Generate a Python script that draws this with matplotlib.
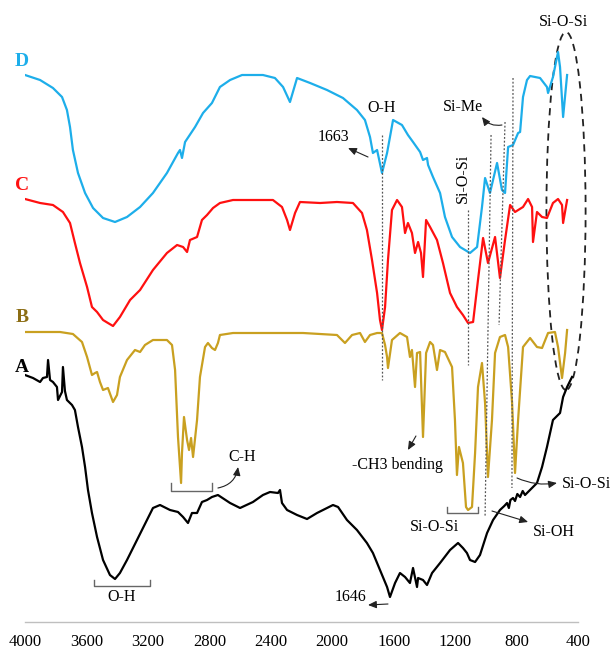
import matplotlib
matplotlib.use("Agg")
import numpy as np
import matplotlib.pyplot as plt
from matplotlib.patches import Ellipse

plt.rcParams['font.family'] = ['Liberation Serif', 'DejaVu Serif']

# FTIR spectra, stacked with vertical offsets (transmittance, a.u.)
wn_d = [4000, 3902, 3818, 3759, 3727, 3707, 3688, 3655, 3609, 3557, 3492, 3414, 3336, 3251, 3167,
        3076, 3004, 2991, 2978, 2958, 2893, 2841, 2783, 2731, 2665, 2587, 2451, 2373, 2320, 2275,
        2229, 2144, 2034, 1930, 1839, 1787, 1754, 1735, 1708, 1676, 1643, 1604, 1546, 1507, 1474,
        1428, 1409, 1383, 1376, 1344, 1298, 1266, 1220, 1168, 1103, 1057, 1025, 1005, 973, 927,
        895, 875, 855, 823, 790, 777, 758, 732, 712, 647, 602, 595, 563, 530, 517, 497, 471]
t_d = [574, 569, 561, 552, 539, 522, 499, 476, 456, 441, 431, 427, 432, 442, 456,
       476, 496, 499, 491, 507, 522, 536, 546, 562, 569, 574, 574, 571, 562, 547,
       571, 566, 559, 551, 539, 529, 512, 496, 499, 476, 496, 529, 524, 514, 507,
       497, 489, 491, 484, 472, 456, 432, 412, 402, 396, 402, 442, 471, 456, 486,
       459, 456, 502, 504, 516, 517, 552, 569, 573, 571, 562, 556, 572, 597, 582, 532, 574]

wn_c = [4000, 3902, 3818, 3753, 3707, 3675, 3642, 3596, 3564, 3531, 3492, 3460, 3427, 3382, 3316,
        3251, 3167, 3076, 3010, 2971, 2945, 2926, 2880, 2848, 2815, 2776, 2731, 2646, 2386, 2327,
        2294, 2275, 2242, 2210, 2079, 1969, 1865, 1806, 1774, 1741, 1708, 1689, 1676, 1656, 1637,
        1611, 1578, 1546, 1526, 1507, 1481, 1461, 1441, 1422, 1409, 1389, 1363, 1318, 1279, 1233,
        1188, 1149, 1116, 1083, 1051, 1018, 986, 940, 908, 875, 842, 810, 758, 725, 699, 693,
        667, 634, 602, 563, 530, 504, 497, 471]
t_c = [450, 446, 444, 437, 426, 406, 386, 362, 342, 337, 329, 326, 323, 332, 349,
       359, 379, 396, 404, 402, 397, 409, 412, 429, 434, 441, 446, 449, 449, 442,
       429, 419, 436, 447, 446, 447, 446, 436, 419, 389, 356, 329, 319, 342, 389,
       439, 449, 442, 416, 426, 416, 396, 407, 396, 372, 429, 422, 409, 386, 356,
       342, 334, 326, 327, 369, 411, 386, 412, 371, 409, 444, 437, 442, 450, 442, 407,
       437, 432, 431, 446, 450, 444, 426, 449]

wn_b = [4000, 3772, 3688, 3629, 3596, 3564, 3544, 3531, 3512, 3492, 3460, 3427, 3401, 3382, 3336,
        3284, 3251, 3219, 3167, 3076, 3043, 3023, 3004, 2984, 2978, 2965, 2945, 2932, 2919, 2906,
        2880, 2861, 2828, 2809, 2783, 2763, 2744, 2731, 2646, 2451, 2190, 1969, 1917, 1871, 1819,
        1787, 1754, 1708, 1676, 1656, 1643, 1637, 1611, 1559, 1513, 1494, 1481, 1461, 1448, 1428,
        1409, 1389, 1363, 1344, 1318, 1298, 1266, 1220, 1201, 1188, 1175, 1149, 1129, 1116, 1090,
        1070, 1051, 1025, 1005, 986, 960, 940, 908, 875, 855, 829, 810, 790, 758, 712, 667,
        634, 595, 550, 530, 504, 484, 471]
t_b = [317, 317, 315, 307, 292, 274, 276, 277, 267, 259, 261, 247, 254, 272, 289,
       299, 297, 304, 309, 309, 304, 279, 212, 166, 196, 232, 209, 199, 211, 192,
       229, 272, 302, 306, 301, 299, 306, 314, 316, 316, 316, 314, 306, 314, 316,
       307, 314, 316, 316, 304, 292, 281, 309, 316, 312, 292, 299, 262, 296, 297,
       212, 296, 307, 304, 279, 299, 297, 282, 229, 174, 202, 186, 142, 139, 142,
       196, 262, 286, 246, 172, 229, 296, 312, 314, 302, 246, 176, 229, 302, 311, 302,
       301, 316, 317, 302, 271, 296, 319]

wn_a = [4000, 3948, 3902, 3883, 3857, 3850, 3837, 3818, 3792, 3785, 3759, 3753, 3740, 3727, 3694,
        3675, 3655, 3629, 3609, 3590, 3564, 3531, 3492, 3447, 3414, 3382, 3336, 3271, 3206, 3167,
        3121, 3056, 3004, 2971, 2939, 2913, 2880, 2848, 2815, 2783, 2744, 2665, 2600, 2516, 2451,
        2405, 2353, 2340, 2327, 2294, 2229, 2164, 2099, 2060, 1995, 1962, 1904, 1839, 1774, 1735,
        1689, 1643, 1624, 1591, 1559, 1526, 1494, 1474, 1448, 1441, 1409, 1383, 1350, 1298, 1233,
        1181, 1149, 1123, 1103, 1070, 1038, 992, 953, 908, 880, 862, 850, 840, 823, 810, 795,
        777, 760, 745, 732, 693, 667, 634, 602, 563, 517, 497, 471, 439]
t_a = [274, 271, 267, 271, 272, 289, 269, 267, 262, 249, 257, 282, 258, 249, 244,
       239, 222, 202, 182, 159, 136, 112, 89, 74, 70, 76, 89, 109, 129, 141,
       144, 139, 137, 132, 126, 136, 136, 147, 149, 152, 154, 146, 141, 147, 154,
       157, 156, 159, 146, 139, 134, 130, 136, 139, 144, 142, 129, 119, 106, 96,
       79, 62, 52, 66, 76, 72, 66, 81, 62, 71, 69, 64, 76, 86, 99,
       106, 101, 96, 89, 87, 94, 116, 129, 139, 143, 146, 141, 149, 151, 148, 155,
       152, 158, 154, 156, 162, 166, 182, 202, 229, 236, 252, 262, 272]

xticks = [4000, 3600, 3200, 2800, 2400, 2000, 1600, 1200, 800, 400]

c_blue = '#1DAEEA'
c_red = '#FF1010'
c_gold = '#C9A020'
c_b_lbl = '#8C6D14'

fig = plt.figure(figsize=(6.14, 6.49), dpi=100)
ax = fig.add_axes([25 / 614, 0, 553 / 614, 1])

ax.plot(wn_d, t_d, color=c_blue, lw=1.6)
ax.plot(wn_c, t_c, color=c_red, lw=1.6)
ax.plot(wn_b, t_b, color=c_gold, lw=1.6)
ax.plot(wn_a, t_a, color='black', lw=1.6)

ax.set_xlim(4000, 400)
ax.set_ylim(0, 649)
ax.set_xticks(xticks)
ax.set_yticks([])
for s in ['top', 'right', 'left']:
    ax.spines[s].set_visible(False)
ax.spines['bottom'].set_position(('data', 27))
ax.spines['bottom'].set_color('#BFBFBF')
ax.spines['bottom'].set_linewidth(1.0)
ax.tick_params(axis='x', length=0, pad=9, labelsize=12)
ax.patch.set_alpha(0)

# sample letters
for lbl, y, col in [('D', 587, c_blue), ('C', 464, c_red), ('B', 332, c_b_lbl), ('A', 282, 'black')]:
    ax.text(4020, y, lbl, color=col, fontsize=14, fontweight='bold', ha='center', va='center', clip_on=False)

# dotted guide lines
guide = dict(color='#555555', lw=0.9, ls=(0, (1.5, 1.5)))
ax.plot([1676, 1676], [514, 269], **guide)
ax.plot([1116, 1116], [439, 284], **guide)
ax.plot([966, 1005], [514, 132], **guide)
ax.plot([875, 914], [527, 324], **guide)
ax.plot([823, 830], [571, 161], **guide)

# dashed ellipse around the low-wavenumber Si-O-Si band
ax.add_patch(Ellipse((478, 438), 255, 358, fill=False, ls=(0, (4, 3)), lw=1.3, ec='#222222',
                     clip_on=False))

fs = 11.5
ax.text(1676, 541, 'O-H', fontsize=fs, ha='center', va='center')
ax.text(1995, 512, '1663', fontsize=fs, ha='center', va='center')
ax.text(1149, 542, 'Si-Me', fontsize=fs, ha='center', va='center')
ax.text(1149, 471, 'Si-O-Si', fontsize=fs, ha='center', va='center', rotation=90)
ax.text(497, 627, 'Si-O-Si', fontsize=fs, ha='center', va='center')
ax.text(1578, 184, '-CH3 bending', fontsize=fs, ha='center', va='center')
ax.text(2587, 192, 'C-H', fontsize=fs, ha='center', va='center')
ax.text(3369, 52, 'O-H', fontsize=fs, ha='center', va='center')
ax.text(1331, 122, 'Si-O-Si', fontsize=fs, ha='center', va='center')
ax.text(693, 117, 'Si-OH', fontsize=fs, ha='left', va='center', clip_on=False)
ax.text(504, 165, 'Si-O-Si', fontsize=fs, ha='left', va='center', clip_on=False)
ax.text(1884, 52, '1646', fontsize=fs, ha='center', va='center')

arr = dict(arrowstyle='-|>,head_length=0.5,head_width=0.22', color='#222222', lw=0.8,
           shrinkA=0, shrinkB=0)
ax.annotate('', xy=(1897, 501), xytext=(1767, 492), arrowprops=arr)
ax.annotate('', xy=(1025, 532), xytext=(895, 524), arrowprops=dict(arr, connectionstyle='arc3,rad=-0.3'))
ax.annotate('', xy=(1507, 199), xytext=(1455, 213), arrowprops=arr)
ax.annotate('', xy=(2613, 182), xytext=(2744, 161), arrowprops=dict(arr, connectionstyle='arc3,rad=0.35'))
ax.annotate('', xy=(725, 127), xytext=(960, 138), arrowprops=arr)
ax.annotate('', xy=(537, 166), xytext=(797, 171), arrowprops=dict(arr, connectionstyle='arc3,rad=0.15'))
ax.annotate('', xy=(1767, 44), xytext=(1637, 45), arrowprops=arr)

# brackets under band groups
br = dict(color='#666666', lw=1.0)
ax.plot([3050, 3050, 2783, 2783], [166, 158, 158, 166], **br)
ax.plot([3551, 3551, 3186, 3186], [69, 63, 63, 69], **br)
ax.plot([1253, 1253, 1051, 1051], [142, 136, 136, 142], **br)

fig.savefig('out.png', dpi=100)
